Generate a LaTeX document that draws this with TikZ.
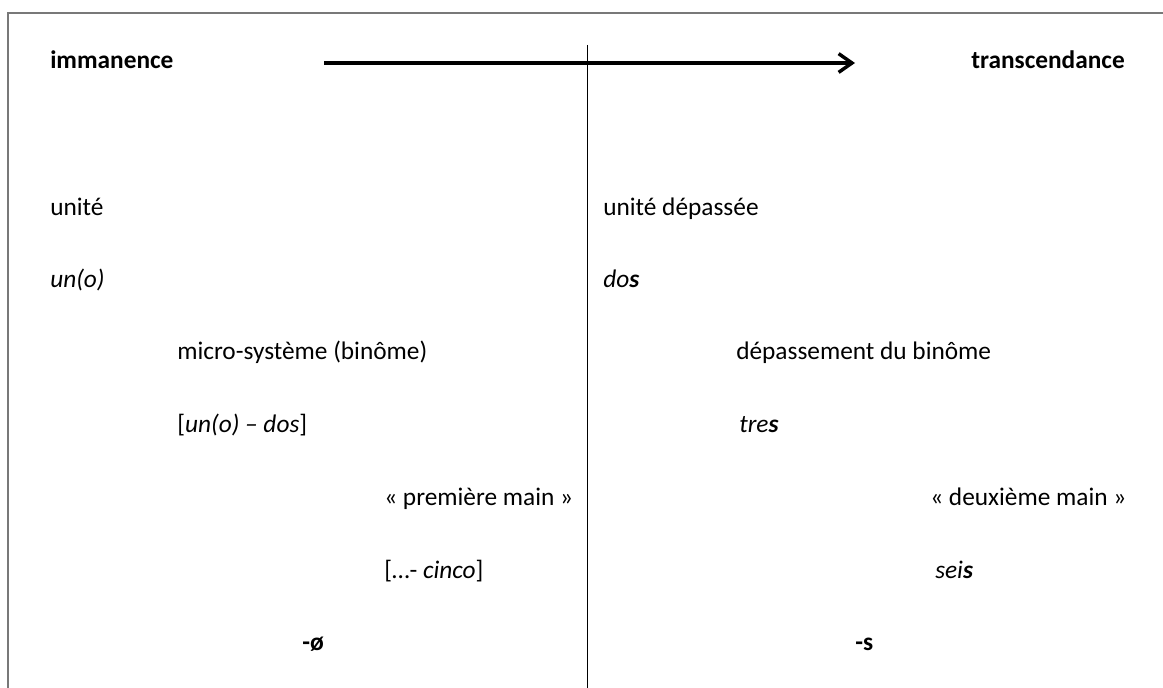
\documentclass[tikz,border=0pt]{standalone}
\usepackage{fontspec}
\setmainfont{Carlito}
\usepackage{tikz}
\usetikzlibrary{positioning,arrows.meta}
\usepackage{xcolor}
\definecolor{framegray}{RGB}{120,120,120}

\begin{document}
\begin{tikzpicture}[x=0.75pt, y=-0.75pt, >={Straight Barb[length=10pt,width=14pt]}]
    \tikzset{
        lbl/.style={anchor=base west, inner sep=0pt, font=\fontsize{19}{23}\selectfont},
        ttl/.style={lbl, font=\fontsize{19}{23}\selectfont\bfseries}
    }

    % page
    \useasboundingbox (0,0) rectangle (1163,688);
    \fill[white] (0,0) rectangle (1163,688);
    \draw[framegray, line width=1.1pt] (8,688) -- (8,13) -- (1164,13);

    % axis immanence -> transcendance
    \node[ttl] (imm) at (50,69) {immanence};
    \node[ttl, anchor=base east] (trans) at (1125,69) {transcendance};
    \coordinate (axStart) at (324,63);
    \coordinate (axEnd) at (855,63);
    \draw[->, line width=2.6pt] (axStart) -- (axEnd);

    % divider
    \coordinate (divTop) at (587.5,45);
    \coordinate (divBot) at (587.5,688);
    \draw[line width=0.75pt] (divTop) -- (divBot);

    % left column
    \foreach \name/\x/\y/\txt in {unite/50/215/{unité},
                                  uno/50/287/{\textit{un(o)}},
                                  micro/177/359/{micro-système (binôme)},
                                  unodos/177/432/{[\textit{un(o) – dos}]},
                                  prem/384/505/{« première main »},
                                  cinco/384/578/{[…- \textit{cinco}]},
                                  zero/302/650/{\textbf{-ø}}}{
        \node[lbl] (\name) at (\x,\y) {\txt};
    }

    % right column
    \foreach \name/\x/\y/\txt in {unitedep/603/215/{unité dépassée},
                                  dos/603/287/{\textit{do\textbf{s}}},
                                  depbin/736/359/{dépassement du binôme},
                                  tres/739/432/{\textit{tre\textbf{s}}},
                                  deux/930/505/{« deuxième main »},
                                  seis/935/578/{\textit{sei\textbf{s}}},
                                  plur/855/650/{\textbf{-s}}}{
        \node[lbl] (\name) at (\x,\y) {\txt};
    }
\end{tikzpicture}
\end{document}
